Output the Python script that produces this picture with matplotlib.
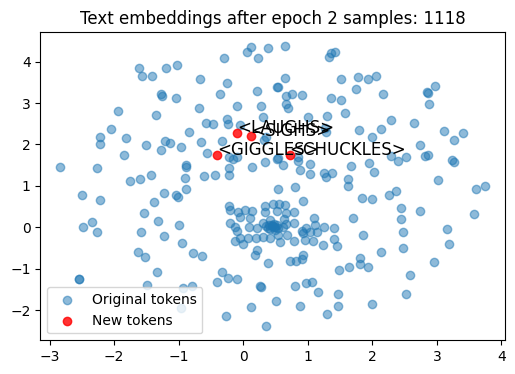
import numpy as np
from matplotlib import pyplot as plt

# 2D projection of the original token embeddings
orig_x = [
    -2.83, -2.26, -1.62, -1.57, -1.41, -1.20, -1.03, -1.28, -1.25, -1.04,
    -1.94, -1.35, -2.05, -2.22, -2.22, -1.82, -1.84, -1.51, -1.27, -1.21,
    -1.14, -0.96, -0.84, -0.66, -0.58, -0.47, -0.68, -0.67, -0.36, -0.25,
    -0.29, 0.06, 0.12, 0.23, 0.39, 0.21, 0.53, 0.27, -0.09, -0.25,
    -0.24, -0.05, 0.31, -0.33, -0.56, -0.22, -0.16, -0.10, -0.22, 0.14,
    0.34, 0.52, -0.89, -0.88, 0.32, 0.65, 1.33, 1.36, 1.42, 0.65,
    0.54, 0.66, 0.75, 0.67, 0.70, 0.91, 1.36, 1.51, 1.51, 1.74,
    1.78, 1.93, 2.05, 1.58, 1.30, 1.01, 2.16, 2.84, 2.86, 2.97,
    2.88, 2.29, 2.65, 3.11, 3.27, 3.41, 1.79, 2.00, 2.14, 1.27,
    1.29, 0.36, 0.85, 0.54, 0.62, 0.88, 1.03, 1.04, 1.25, 1.29,
    1.37, 1.67, 1.63, 1.63, 1.95, 2.03, 2.29, 2.40, 2.53, 2.81,
    2.87, 2.74, 3.24, 3.26, -1.76, -1.60, -1.43, -0.90, -0.61, -0.44,
    -0.22, -2.49, -2.22, -1.23, -1.04, -1.01, -0.89, -1.38, -1.54, -1.32,
    -0.99, -2.48, -2.34, -2.27, -1.59, -1.23, -0.95, -1.63, -1.52, -0.78,
    -0.64, 0.38, -1.34, -2.55, -2.54, -1.49, -0.93, -0.79, -0.41, -0.33,
    -0.23, -0.09, 0.26, 0.27, 0.51, 0.12, -0.26, -0.96, 0.35, 0.54,
    0.81, 0.93, -0.22, -0.21, -0.08, 0.03, 0.13, -0.05, 0.10, 0.34,
    0.46, 0.56, 0.65, 0.34, 0.53, 0.67, 0.79, -0.21, -0.13, -0.10,
    0.09, 0.21, 0.31, 0.41, 0.47, 0.52, 0.44, 0.49, 0.39, 0.54,
    0.64, 0.67, 0.78, 0.62, 0.54, 0.68, 0.57, 0.78, 0.31, 0.41,
    0.20, 0.08, -0.05, -0.13, 0.00, 0.21, 0.18, 0.91, 0.98, 1.03,
    1.09, 1.11, 0.96, 1.08, 1.14, 1.25, 1.24, 0.93, 0.91, 0.72,
    0.82, 0.93, 0.85, 3.02, 3.61, 3.74, 3.57, 1.84, 1.99, 2.26,
    2.36, 2.44, 2.74, 2.44, 2.47, 2.48, 3.16, 3.19, 2.96, 2.59,
    2.52, 1.70, 1.86, 2.14, 1.81, 1.81, 1.94, 1.64, 1.49, 1.41,
    1.41, 1.45, 0.81, 0.97, 1.06, 1.16, 1.47, 0.88, 1.30, 1.47,
    1.99, 0.40, 0.45, 0.42, 0.48, 0.36, 0.50,
]
orig_y = [
    1.45, 1.43, 3.84, 3.65, 3.66, 3.84, 3.91, 3.22, 3.18, 3.12,
    2.81, 2.71, 2.37, 2.18, 2.01, 2.15, 1.75, 1.99, 1.86, 2.08,
    2.04, 1.94, 2.30, 2.06, 2.52, 2.50, 2.88, 3.58, 3.21, 3.48,
    4.09, 4.23, 4.35, 4.09, 4.33, 3.29, 3.39, 2.93, 2.93, 2.61,
    2.50, 2.47, 2.66, 2.08, 1.79, 1.71, 1.66, 1.70, 1.43, 1.45,
    1.58, 1.64, 1.50, 1.46, 2.12, 4.37, 4.11, 4.20, 4.24, 3.60,
    3.38, 3.17, 3.21, 2.98, 2.87, 3.20, 3.13, 3.58, 3.07, 3.34,
    3.63, 3.58, 3.65, 2.76, 2.69, 2.66, 3.21, 3.26, 3.24, 3.41,
    2.98, 2.58, 2.52, 2.32, 2.10, 2.27, 2.34, 2.18, 2.37, 2.39,
    2.31, 2.19, 1.71, 1.67, 1.50, 1.38, 1.53, 1.29, 1.32, 1.21,
    1.30, 1.48, 1.17, 1.00, 1.56, 1.33, 1.72, 1.61, 1.69, 1.72,
    1.75, 1.99, 1.63, 1.58, 1.11, 1.16, 1.26, 1.19, 1.24, 1.26,
    1.26, 0.77, 0.65, 0.83, 0.77, 0.73, 0.93, 0.60, 0.35, 0.15,
    0.05, 0.01, 0.13, -0.11, -0.11, -0.22, -0.38, -0.59, -0.72, -0.63,
    -0.70, -0.87, -1.09, -1.25, -1.26, -1.39, -1.46, -1.41, -1.33, -1.09,
    -1.23, -1.25, -1.42, -1.45, -1.78, -1.93, -2.14, -1.94, -2.38, 0.92,
    0.97, 0.63, 0.51, 0.42, 0.38, 0.42, 0.40, 0.26, 0.22, 0.51,
    0.56, 0.56, 0.54, 0.38, 0.40, 0.34, 0.36, 0.11, 0.01, -0.09,
    0.01, -0.02, 0.11, 0.18, 0.01, 0.06, 0.06, -0.07, -0.02, -0.02,
    0.19, 0.08, 0.10, 0.01, -0.19, -0.19, -0.35, -0.33, -0.23, -0.27,
    -0.27, -0.27, -0.27, -0.33, -0.41, -0.55, -0.67, -0.08, -0.02, -0.11,
    0.22, 0.06, -0.31, -0.33, -0.11, 0.01, -0.43, -0.67, -0.77, -0.81,
    -0.81, -0.13, 1.60, 1.14, 0.92, 1.00, 0.32, 0.70, 0.68, 0.78,
    0.88, 0.46, 0.39, 0.19, -0.11, -0.51, -0.05, -0.40, -0.85, -1.16,
    -1.62, 0.22, -0.19, -0.60, -0.75, -0.89, -0.97, -0.97, -1.03, -0.02,
    -0.28, -0.44, -1.41, -1.34, -1.31, -1.57, -1.62, -1.91, -2.09, -1.90,
    -1.85, 0.05, 0.02, -0.04, 0.09, 0.03, 0.00,
]

# new special tokens
new_labels = ["<LAUGHS>", "<SIGHS>", "<GIGGLES>", "<CHUCKLES>"]
new_x = [-0.09, 0.12, -0.40, 0.72]
new_y = [2.28, 2.21, 1.75, 1.75]

fig = plt.figure(figsize=(5.15, 3.74), dpi=100)
ax = fig.add_axes([0.0786, 0.0901, 0.9025, 0.8235])

ax.scatter(orig_x, orig_y, alpha=0.5, label="Original tokens")
ax.scatter(new_x, new_y, c="red", alpha=0.8, label="New tokens")
for x, y, name in zip(new_x, new_y, new_labels):
    ax.text(x, y, name, fontsize=12)

ax.set_xlim(-3.14, 4.06)
ax.set_ylim(-2.73, 4.71)
ax.set_title("Text embeddings after epoch 2 samples: 1118")
ax.legend(loc="lower left")

fig.savefig("out.png")
